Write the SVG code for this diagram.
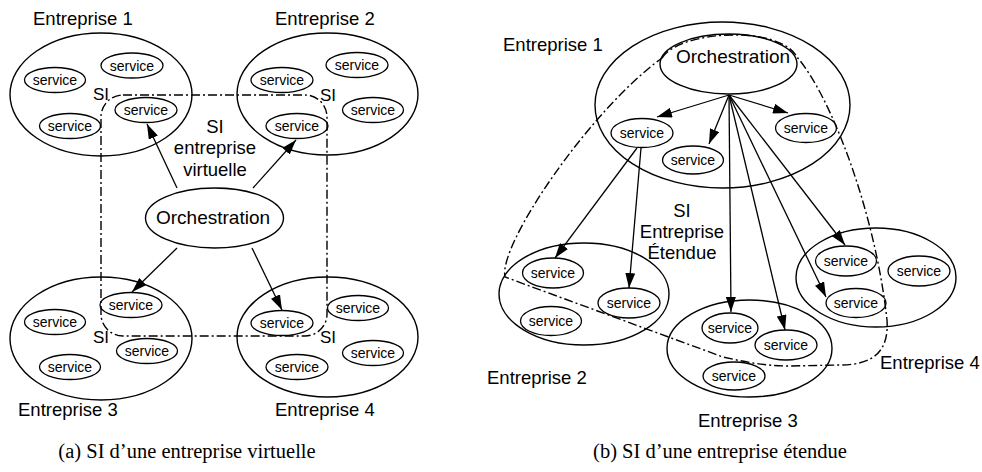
<svg xmlns="http://www.w3.org/2000/svg" width="982" height="472" viewBox="0 0 982 472">
<style>
.big{fill:none;stroke:#000;stroke-width:1.4}
.svc{fill:none;stroke:#000;stroke-width:1.3}
.st{font-family:"Liberation Sans",Arial,sans-serif;font-size:14px;text-anchor:middle;fill:#000}
.lbl{font-family:"Liberation Sans",Arial,sans-serif;font-size:18.5px;fill:#000}
.si{font-family:"Liberation Sans",Arial,sans-serif;font-size:17px;fill:#000}
.mid{text-anchor:middle}
.arr{fill:none;stroke:#000;stroke-width:1.3;marker-end:url(#ah)}
.dd{fill:none;stroke:#000;stroke-width:1.4;stroke-dasharray:9 3 2 3}
.cap{font-family:"Liberation Serif","Times New Roman",serif;font-size:20.5px;text-anchor:middle;fill:#000}
</style>
<defs>
<marker id="ah" viewBox="0 0 15 10" refX="15" refY="5" markerWidth="15" markerHeight="10" markerUnits="userSpaceOnUse" orient="auto">
<path d="M0,0 L15,5 L0,10 z" fill="#000"/>
</marker>
</defs>
<rect width="982" height="472" fill="#fff"/>

<!-- Left diagram -->
<g id="a-e1">
<ellipse class="big" cx="101" cy="94.5" rx="91" ry="61.5"/>
<text class="lbl" x="33" y="25">Entreprise 1</text>
<ellipse class="svc" cx="55" cy="80" rx="30.5" ry="12.5"/><text class="st" x="55" y="85">service</text>
<ellipse class="svc" cx="132" cy="65.5" rx="31" ry="12.5"/><text class="st" x="132" y="70.5">service</text>
<ellipse class="svc" cx="70" cy="126" rx="30.5" ry="12.5"/><text class="st" x="70" y="131">service</text>
<ellipse class="svc" cx="146" cy="110" rx="31" ry="12.5"/><text class="st" x="146" y="115">service</text>
<text class="si" x="93" y="100">SI</text>
</g>
<g id="a-e2">
<ellipse class="big" cx="327.5" cy="94" rx="90.5" ry="61"/>
<text class="lbl" x="275" y="25">Entreprise 2</text>
<ellipse class="svc" cx="282" cy="80" rx="31" ry="12.5"/><text class="st" x="282" y="85">service</text>
<ellipse class="svc" cx="357" cy="65" rx="31" ry="12.5"/><text class="st" x="357" y="70">service</text>
<ellipse class="svc" cx="373" cy="110" rx="30.5" ry="12.5"/><text class="st" x="373" y="115">service</text>
<ellipse class="svc" cx="297" cy="126" rx="31" ry="12.5"/><text class="st" x="297" y="131">service</text>
<text class="si" x="320" y="101">SI</text>
</g>
<g id="a-e3">
<ellipse class="big" cx="101" cy="338.5" rx="91" ry="61.5"/>
<text class="lbl" x="18" y="416">Entreprise 3</text>
<ellipse class="svc" cx="131" cy="305" rx="31" ry="12.5"/><text class="st" x="131" y="310">service</text>
<ellipse class="svc" cx="55" cy="322" rx="30.5" ry="12.5"/><text class="st" x="55" y="327">service</text>
<ellipse class="svc" cx="147" cy="351" rx="30.5" ry="12.5"/><text class="st" x="147" y="356">service</text>
<ellipse class="svc" cx="70" cy="367" rx="30.5" ry="12.5"/><text class="st" x="70" y="372">service</text>
<text class="si" x="93" y="343">SI</text>
</g>
<g id="a-e4">
<ellipse class="big" cx="327.5" cy="337" rx="90.5" ry="60"/>
<text class="lbl" x="275" y="416">Entreprise 4</text>
<ellipse class="svc" cx="358" cy="308" rx="30.5" ry="12.5"/><text class="st" x="358" y="313">service</text>
<ellipse class="svc" cx="282" cy="323" rx="31" ry="12.5"/><text class="st" x="282" y="328">service</text>
<ellipse class="svc" cx="373" cy="353" rx="30.5" ry="12.5"/><text class="st" x="373" y="358">service</text>
<ellipse class="svc" cx="297" cy="367" rx="31" ry="12.5"/><text class="st" x="297" y="372">service</text>
<text class="si" x="320" y="343">SI</text>
</g>
<g id="a-orch">
<ellipse class="big" cx="214.5" cy="218" rx="69" ry="30"/>
<text class="lbl mid" x="213" y="224" style="font-size:19px">Orchestration</text>
</g>
<g id="a-si">
<rect class="dd" x="101" y="95" width="226" height="241" rx="22"/>
<text class="lbl mid" x="215" y="133">SI</text>
<text class="lbl mid" x="215" y="154">entreprise</text>
<text class="lbl mid" x="215" y="176">virtuelle</text>
</g>
<g id="a-connectors">
<line class="arr" x1="177" y1="188" x2="147" y2="124"/>
<line class="arr" x1="253" y1="188" x2="296" y2="140"/>
<line class="arr" x1="177" y1="248" x2="132" y2="292"/>
<line class="arr" x1="252" y1="248" x2="282" y2="310"/>
</g>

<!-- Right diagram -->
<g id="b-e1">
<ellipse class="big" cx="722.5" cy="105" rx="127.5" ry="83"/>
<text class="lbl" x="503" y="51">Entreprise 1</text>
<ellipse class="svc" cx="642" cy="133" rx="31" ry="14.5"/><text class="st" x="642" y="138">service</text>
<ellipse class="svc" cx="693" cy="160" rx="30.5" ry="14"/><text class="st" x="693" y="165">service</text>
<ellipse class="svc" cx="806" cy="128" rx="30.5" ry="14.5"/><text class="st" x="806" y="133">service</text>
</g>
<g id="b-orch">
<ellipse class="big" cx="728.5" cy="64" rx="68.5" ry="30"/>
<text class="lbl mid" x="733" y="63" style="font-size:19px">Orchestration</text>
</g>
<g id="b-e2">
<ellipse class="big" cx="584" cy="294" rx="85" ry="51"/>
<text class="lbl" x="487" y="384">Entreprise 2</text>
<ellipse class="svc" cx="553" cy="273" rx="30.5" ry="15"/><text class="st" x="553" y="278">service</text>
<ellipse class="svc" cx="629" cy="303" rx="31" ry="15"/><text class="st" x="629" y="308">service</text>
<ellipse class="svc" cx="551" cy="321" rx="30.5" ry="14.5"/><text class="st" x="551" y="326">service</text>
</g>
<g id="b-e3">
<ellipse class="big" cx="749.5" cy="348.5" rx="82.5" ry="48.5"/>
<text class="lbl" x="698" y="427">Entreprise 3</text>
<ellipse class="svc" cx="730" cy="328" rx="28" ry="15"/><text class="st" x="730" y="333">service</text>
<ellipse class="svc" cx="786" cy="345" rx="31" ry="15"/><text class="st" x="786" y="350">service</text>
<ellipse class="svc" cx="734" cy="376" rx="31" ry="14"/><text class="st" x="734" y="381">service</text>
</g>
<g id="b-e4">
<ellipse class="big" cx="876" cy="277.5" rx="80" ry="49.5"/>
<text class="lbl" x="880" y="369">Entreprise 4</text>
<ellipse class="svc" cx="846" cy="261" rx="30.5" ry="15"/><text class="st" x="846" y="266">service</text>
<ellipse class="svc" cx="856" cy="303" rx="30" ry="14.5"/><text class="st" x="856" y="308">service</text>
<ellipse class="svc" cx="919" cy="271" rx="31" ry="15"/><text class="st" x="919" y="276">service</text>
</g>
<g id="b-si">
<path class="dd" d="M662,58 C680,30 780,25 797,57 C830,95 875,210 887,320 C889,350 875,365 840,365 L790,366 C765,366 745,362 723,357 L505,277 C498,245 590,110 662,58 Z"/>
<text class="lbl mid" x="682" y="217">SI</text>
<text class="lbl mid" x="682" y="238">Entreprise</text>
<text class="lbl mid" x="682" y="259">Étendue</text>
</g>
<g id="b-connectors">
<line class="arr" x1="729" y1="95" x2="657" y2="117"/>
<line class="arr" x1="729" y1="95" x2="709" y2="144"/>
<line class="arr" x1="729" y1="95" x2="788" y2="113"/>
<line class="arr" x1="729" y1="95" x2="731" y2="312"/>
<line class="arr" x1="729" y1="95" x2="785" y2="330"/>
<line class="arr" x1="729" y1="95" x2="826" y2="297"/>
<line class="arr" x1="729" y1="95" x2="845" y2="245"/>
<line class="arr" x1="637" y1="148" x2="555" y2="258"/>
<line class="arr" x1="641" y1="148" x2="629" y2="288"/>
</g>

<g id="captions">
<text class="cap" x="187" y="458">(a) SI d’une entreprise virtuelle</text>
<text class="cap" x="720" y="458">(b) SI d’une entreprise étendue</text>
</g>
</svg>
